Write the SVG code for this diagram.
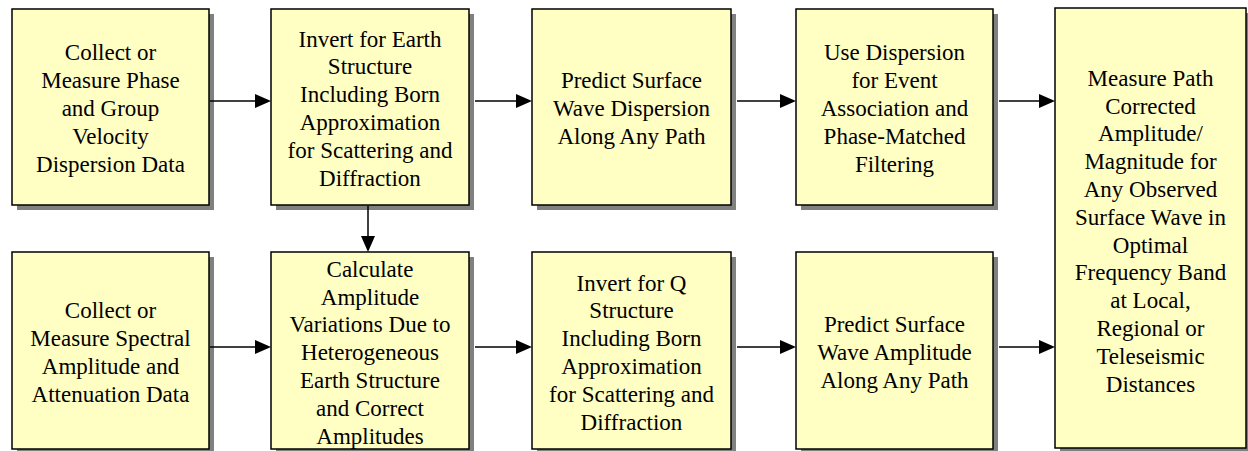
<svg xmlns="http://www.w3.org/2000/svg" width="1248" height="451" viewBox="0 0 1248 451">
<style>
.box{fill:#FFFFC4;stroke:#000;stroke-width:1.5}
.sh{fill:#808080}
.c{stroke:#000;stroke-width:1.5;fill:none}
.h{fill:#000}
</style>
<rect width="1248" height="451" fill="#fff"/>
<g id="n1">
<rect class="sh" x="17" y="14" width="197" height="196"/>
<rect class="box" x="12" y="9" width="197" height="196"/>
<text x="110.5" y="60.4" font-family="Liberation Serif" font-size="23" text-anchor="middle">Collect or</text>
<text x="110.5" y="88.2" font-family="Liberation Serif" font-size="23" text-anchor="middle">Measure Phase</text>
<text x="110.5" y="116" font-family="Liberation Serif" font-size="23" text-anchor="middle">and Group</text>
<text x="110.5" y="143.8" font-family="Liberation Serif" font-size="23" text-anchor="middle">Velocity</text>
<text x="110.5" y="171.6" font-family="Liberation Serif" font-size="23" text-anchor="middle">Dispersion Data</text>
</g>
<g id="n2">
<rect class="sh" x="276" y="14" width="198" height="196"/>
<rect class="box" x="271" y="9" width="198" height="196"/>
<text x="370" y="46.6" font-family="Liberation Serif" font-size="23" text-anchor="middle">Invert for Earth</text>
<text x="370" y="74.4" font-family="Liberation Serif" font-size="23" text-anchor="middle">Structure</text>
<text x="370" y="102.2" font-family="Liberation Serif" font-size="23" text-anchor="middle">Including Born</text>
<text x="370" y="130" font-family="Liberation Serif" font-size="23" text-anchor="middle">Approximation</text>
<text x="370" y="157.8" font-family="Liberation Serif" font-size="23" text-anchor="middle">for Scattering and</text>
<text x="370" y="185.6" font-family="Liberation Serif" font-size="23" text-anchor="middle">Diffraction</text>
</g>
<g id="n3">
<rect class="sh" x="537" y="14" width="199" height="196"/>
<rect class="box" x="532" y="9" width="199" height="196"/>
<text x="631.5" y="88.2" font-family="Liberation Serif" font-size="23" text-anchor="middle">Predict Surface</text>
<text x="631.5" y="116" font-family="Liberation Serif" font-size="23" text-anchor="middle">Wave Dispersion</text>
<text x="631.5" y="143.8" font-family="Liberation Serif" font-size="23" text-anchor="middle">Along Any Path</text>
</g>
<g id="n4">
<rect class="sh" x="801" y="14" width="197" height="196"/>
<rect class="box" x="796" y="9" width="197" height="196"/>
<text x="894.5" y="60.4" font-family="Liberation Serif" font-size="23" text-anchor="middle">Use Dispersion</text>
<text x="894.5" y="88.2" font-family="Liberation Serif" font-size="23" text-anchor="middle">for Event</text>
<text x="894.5" y="116" font-family="Liberation Serif" font-size="23" text-anchor="middle">Association and</text>
<text x="894.5" y="143.8" font-family="Liberation Serif" font-size="23" text-anchor="middle">Phase-Matched</text>
<text x="894.5" y="171.6" font-family="Liberation Serif" font-size="23" text-anchor="middle">Filtering</text>
</g>
<g id="n5">
<rect class="sh" x="1060" y="13" width="192" height="440"/>
<rect class="box" x="1055" y="8" width="191" height="440"/>
<text x="1150.5" y="85.8" font-family="Liberation Serif" font-size="23" text-anchor="middle">Measure Path</text>
<text x="1150.5" y="113.6" font-family="Liberation Serif" font-size="23" text-anchor="middle">Corrected</text>
<text x="1150.5" y="141.4" font-family="Liberation Serif" font-size="23" text-anchor="middle">Amplitude/</text>
<text x="1150.5" y="169.2" font-family="Liberation Serif" font-size="23" text-anchor="middle">Magnitude for</text>
<text x="1150.5" y="197" font-family="Liberation Serif" font-size="23" text-anchor="middle">Any Observed</text>
<text x="1150.5" y="224.8" font-family="Liberation Serif" font-size="23" text-anchor="middle">Surface Wave in</text>
<text x="1150.5" y="252.6" font-family="Liberation Serif" font-size="23" text-anchor="middle">Optimal</text>
<text x="1150.5" y="280.4" font-family="Liberation Serif" font-size="23" text-anchor="middle">Frequency Band</text>
<text x="1150.5" y="308.2" font-family="Liberation Serif" font-size="23" text-anchor="middle">at Local,</text>
<text x="1150.5" y="336" font-family="Liberation Serif" font-size="23" text-anchor="middle">Regional or</text>
<text x="1150.5" y="363.8" font-family="Liberation Serif" font-size="23" text-anchor="middle">Teleseismic</text>
<text x="1150.5" y="391.6" font-family="Liberation Serif" font-size="23" text-anchor="middle">Distances</text>
</g>
<g id="n6">
<rect class="sh" x="17" y="257" width="197" height="197"/>
<rect class="box" x="12" y="252" width="197" height="197"/>
<text x="110.5" y="318.1" font-family="Liberation Serif" font-size="23" text-anchor="middle">Collect or</text>
<text x="110.5" y="345.9" font-family="Liberation Serif" font-size="23" text-anchor="middle">Measure Spectral</text>
<text x="110.5" y="373.7" font-family="Liberation Serif" font-size="23" text-anchor="middle">Amplitude and</text>
<text x="110.5" y="401.5" font-family="Liberation Serif" font-size="23" text-anchor="middle">Attenuation Data</text>
</g>
<g id="n7">
<rect class="sh" x="276" y="257" width="198" height="197"/>
<rect class="box" x="271" y="252" width="198" height="197"/>
<text x="370" y="276.7" font-family="Liberation Serif" font-size="23" text-anchor="middle">Calculate</text>
<text x="370" y="304.5" font-family="Liberation Serif" font-size="23" text-anchor="middle">Amplitude</text>
<text x="370" y="332.3" font-family="Liberation Serif" font-size="23" text-anchor="middle">Variations Due to</text>
<text x="370" y="360.1" font-family="Liberation Serif" font-size="23" text-anchor="middle">Heterogeneous</text>
<text x="370" y="387.9" font-family="Liberation Serif" font-size="23" text-anchor="middle">Earth Structure</text>
<text x="370" y="415.7" font-family="Liberation Serif" font-size="23" text-anchor="middle">and Correct</text>
<text x="370" y="443.5" font-family="Liberation Serif" font-size="23" text-anchor="middle">Amplitudes</text>
</g>
<g id="n8">
<rect class="sh" x="537" y="257" width="199" height="197"/>
<rect class="box" x="532" y="252" width="199" height="197"/>
<text x="631.5" y="290.5" font-family="Liberation Serif" font-size="23" text-anchor="middle">Invert for Q</text>
<text x="631.5" y="318.3" font-family="Liberation Serif" font-size="23" text-anchor="middle">Structure</text>
<text x="631.5" y="346.1" font-family="Liberation Serif" font-size="23" text-anchor="middle">Including Born</text>
<text x="631.5" y="373.9" font-family="Liberation Serif" font-size="23" text-anchor="middle">Approximation</text>
<text x="631.5" y="401.7" font-family="Liberation Serif" font-size="23" text-anchor="middle">for Scattering and</text>
<text x="631.5" y="429.5" font-family="Liberation Serif" font-size="23" text-anchor="middle">Diffraction</text>
</g>
<g id="n9">
<rect class="sh" x="801" y="257" width="197" height="197"/>
<rect class="box" x="796" y="252" width="197" height="197"/>
<text x="894.5" y="332.2" font-family="Liberation Serif" font-size="23" text-anchor="middle">Predict Surface</text>
<text x="894.5" y="360" font-family="Liberation Serif" font-size="23" text-anchor="middle">Wave Amplitude</text>
<text x="894.5" y="387.8" font-family="Liberation Serif" font-size="23" text-anchor="middle">Along Any Path</text>
</g>
<g id="connectors">
<line class="c" x1="210" y1="101" x2="256" y2="101"/><polygon class="h" points="255,94 271,101 255,108"/>
<line class="c" x1="475" y1="101" x2="517" y2="101"/><polygon class="h" points="516,94 532,101 516,108"/>
<line class="c" x1="737" y1="101" x2="781" y2="101"/><polygon class="h" points="780,94 796,101 780,108"/>
<line class="c" x1="999" y1="101" x2="1040" y2="101"/><polygon class="h" points="1039,94 1055,101 1039,108"/>
<line class="c" x1="210" y1="347" x2="256" y2="347"/><polygon class="h" points="255,340 271,347 255,354"/>
<line class="c" x1="475" y1="347" x2="517" y2="347"/><polygon class="h" points="516,340 532,347 516,354"/>
<line class="c" x1="737" y1="347" x2="781" y2="347"/><polygon class="h" points="780,340 796,347 780,354"/>
<line class="c" x1="999" y1="347" x2="1040" y2="347"/><polygon class="h" points="1039,340 1055,347 1039,354"/>
<line class="c" x1="368" y1="206" x2="368" y2="237"/><polygon class="h" points="361,236 368,252 375,236"/>
</g>
</svg>
